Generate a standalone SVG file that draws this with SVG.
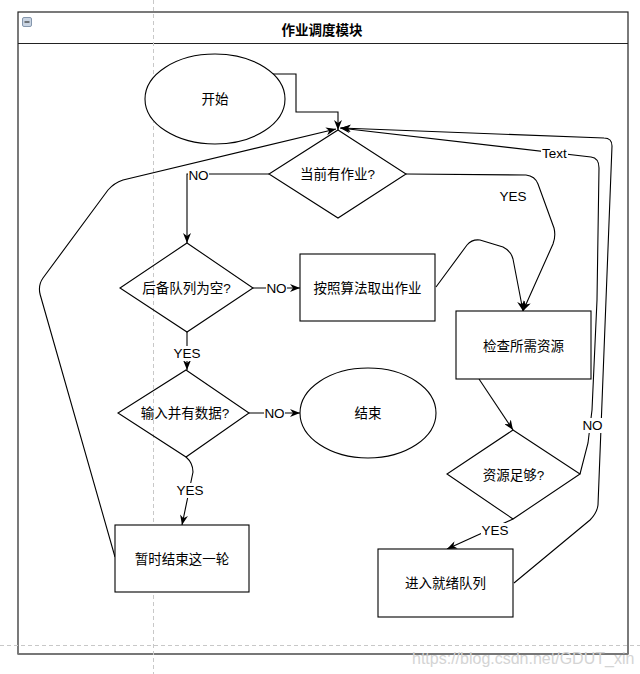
<svg xmlns="http://www.w3.org/2000/svg" width="640" height="674" viewBox="0 0 640 674">
<defs>
<marker id="arr" viewBox="0 0 10 8" refX="10" refY="4" markerWidth="10" markerHeight="8" markerUnits="userSpaceOnUse" orient="auto">
<path d="M0,0 L10,4 L0,8 L3,4 Z" fill="#000"/>
</marker>
<style>
text{font-family:"Liberation Sans","Noto Sans CJK SC",sans-serif;font-size:13.5px;fill:#000;text-anchor:middle;dominant-baseline:central}
.title{font-weight:bold}
.node{fill:#fff;stroke:#000;stroke-width:1.1}
.dia{fill:none;stroke:#000;stroke-width:1.1}
.edge{fill:none;stroke:#000;stroke-width:1.1;marker-end:url(#arr)}
.line{fill:none;stroke:#000;stroke-width:1.1}
.guide{stroke:#c8c8c8;stroke-width:1;stroke-dasharray:4 3}
.lblbg{fill:#fff}
.wm{font-size:16px;fill:#d4d4d4;text-anchor:start}
</style>
</defs>
<rect x="0" y="0" width="640" height="674" fill="#fff"/>
<g id="container">
<rect x="18" y="12" width="610" height="642" fill="#fff" stroke="#222" stroke-width="1.2"/>
<line x1="18" y1="43.5" x2="628" y2="43.5" stroke="#222" stroke-width="1.2"/>
<line x1="18" y1="654" x2="628" y2="654" stroke="#777" stroke-width="2"/>
<rect x="22.5" y="17.5" width="9" height="9" rx="1.5" fill="#c9d4e2" stroke="#8597ad" stroke-width="1"/>
<line x1="24.5" y1="22" x2="29.5" y2="22" stroke="#333" stroke-width="1.2"/>
<text class="title" x="322" y="30">作业调度模块</text>
</g>
<g id="guides">
<line class="guide" x1="153.5" y1="0" x2="153.5" y2="674"/>
<line class="guide" x1="0" y1="645.5" x2="640" y2="645.5"/>
</g>
<g id="connectors">
<path class="edge" d="M270,74 L296,74 L296,112 L338,112 L338,130"/>
<path class="edge" d="M115,557 L40,294 Q38,285 43,278 L108,190 Q114,183 123,180 L336,129"/>
<path class="edge" d="M269,174 L187,174 L187,243"/>
<path class="edge" d="M406,174 L526,175 Q535,176 538,184 L554,228 Q556,236 553,244 L523,311"/>
<path class="edge" d="M253,288 L300,288"/>
<path class="edge" d="M436,287 L467,245 Q472,239 480,240 L503,247 Q511,251 513,259 L523,311"/>
<path class="edge" d="M187,332 L187,370"/>
<path class="edge" d="M249,413 L300,413"/>
<path class="edge" d="M186,457 Q193,463 193,472 L182,525"/>
<path class="edge" d="M479,379 L513,430"/>
<path class="edge" d="M513,519 L447,549"/>
<path class="edge" d="M580,474 L588,443 L592,410 L597,300 L599,168 Q599,158 591,157 L340,128"/>
<path class="edge" d="M514,583 L590,520 Q597,513 598,505 L612,146 Q612,138 604,138 L341,128"/>
<rect class="lblbg" x="188" y="167" width="21" height="15"/>
<text x="198.5" y="175">NO</text>
<text x="513" y="196">YES</text>
<rect class="lblbg" x="266" y="281" width="21" height="15"/>
<text x="276.5" y="288.5">NO</text>
<rect class="lblbg" x="173" y="346" width="28" height="15"/>
<text x="187" y="353.5">YES</text>
<rect class="lblbg" x="264" y="406" width="21" height="15"/>
<text x="274.5" y="413.5">NO</text>
<rect class="lblbg" x="176" y="483" width="28" height="15"/>
<text x="190" y="490">YES</text>
<rect class="lblbg" x="481" y="523" width="28" height="15"/>
<text x="495" y="530">YES</text>
<rect class="lblbg" x="582" y="418" width="21" height="15"/>
<text x="592.5" y="425">NO</text>
<rect class="lblbg" x="541" y="146" width="27" height="15"/>
<text x="554.5" y="153">Text</text>
</g>
<g id="start">
<ellipse class="node" cx="215" cy="99" rx="70" ry="45"/>
<text x="215" y="99">开始</text>
</g>
<g id="hasJob">
<polygon class="dia" points="338,130 406,174 338,218 269,174"/>
<text x="337.5" y="174">当前有作业?</text>
</g>
<g id="queueEmpty">
<polygon class="dia" points="187,243 253,288 187,332 120,288"/>
<text x="186.5" y="288">后备队列为空?</text>
</g>
<g id="takeJob">
<rect class="node" x="300" y="254" width="135" height="67"/>
<text x="367.5" y="288">按照算法取出作业</text>
</g>
<g id="checkRes">
<rect class="node" x="456" y="311" width="135" height="68"/>
<text x="523.5" y="346">检查所需资源</text>
</g>
<g id="inputData">
<polygon class="dia" points="186,370 249,413 186,457 118,413"/>
<text x="185" y="413">输入并有数据?</text>
</g>
<g id="end">
<ellipse class="node" cx="368" cy="413" rx="68" ry="45"/>
<text x="368" y="413">结束</text>
</g>
<g id="resEnough">
<polygon class="dia" points="513,430 580,474 513,519 447,474"/>
<text x="513.5" y="475">资源足够?</text>
</g>
<g id="pauseRound">
<rect class="node" x="115" y="525" width="134" height="67"/>
<text x="182" y="559">暂时结束这一轮</text>
</g>
<g id="readyQueue">
<rect class="node" x="378" y="549" width="135" height="68"/>
<text x="445.5" y="583">进入就绪队列</text>
</g>
<text class="wm" x="412" y="658">https://blog.csdn.net/GDUT_xin</text>
</svg>
